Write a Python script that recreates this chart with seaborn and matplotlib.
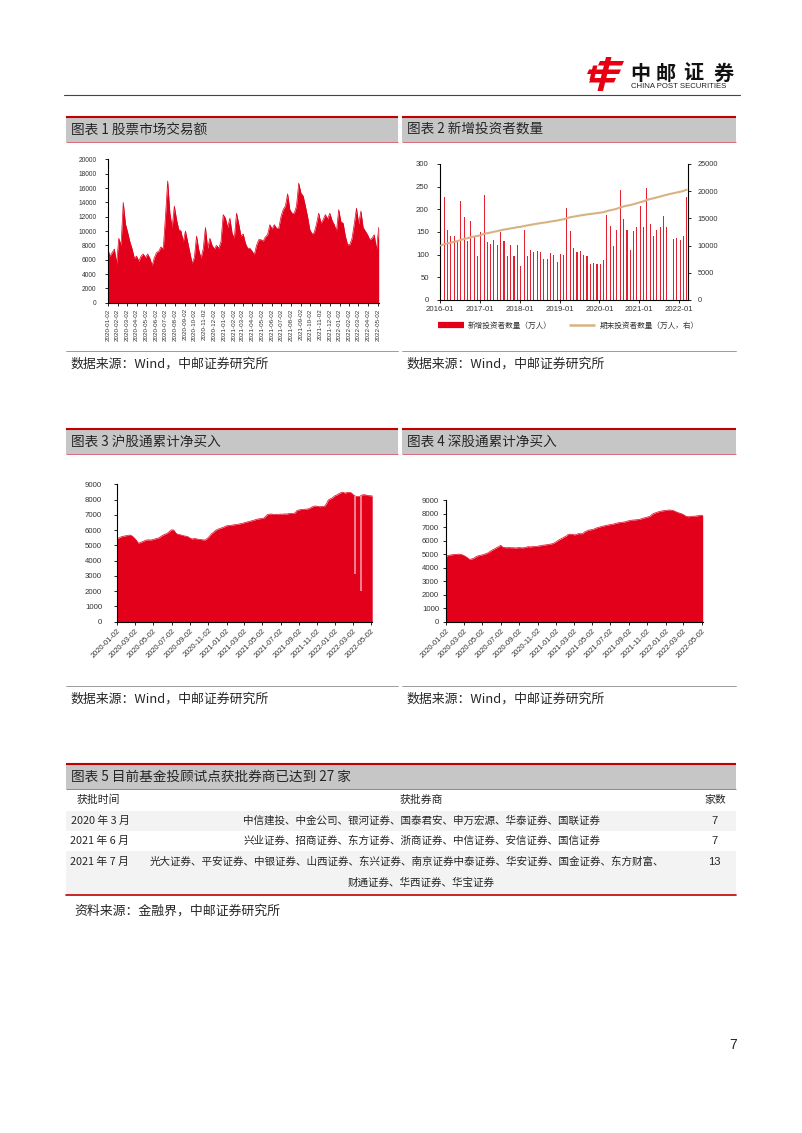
import numpy as np
import pandas as pd
import matplotlib
matplotlib.use('Agg')
import matplotlib.pyplot as plt
import matplotlib.dates as mdates
from matplotlib.patches import Rectangle, Polygon
from matplotlib.lines import Line2D
import seaborn as sns

# ---------------- data ----------------
# Chart 1: stock market turnover (亿元), weekly readings from 2020-01-02
turnover_start = '2020-01-02'
turnover = [7600, 6500, 7000, 7500, 5500, 9000, 8000, 14000, 11000, 9800, 8500, 7500,
            6200, 6500, 5800, 6500, 6800, 6300, 6800, 6200, 5200, 6300, 7000, 7200,
            7800, 7500, 12000, 17000, 12500, 10500, 13500, 11600, 10200, 10000, 8500, 10000,
            8500, 7000, 5500, 6300, 9300, 7400, 6200, 7500, 10500, 7600, 9000, 8000,
            7500, 8000, 7600, 8500, 12300, 11800, 10500, 11800, 9700, 9000, 12500, 11000,
            9300, 9600, 8300, 7600, 7600, 7200, 6700, 8000, 8800, 8800, 8600, 9200,
            9500, 10900, 10300, 10900, 10400, 10400, 12000, 13000, 13500, 15200, 13000, 12500,
            12500, 13500, 16700, 15300, 14900, 13500, 12000, 10200, 9600, 9800, 11000, 12500,
            11100, 11600, 12300, 11700, 12500, 11500, 10900, 10000, 13000, 11300, 11100, 9300,
            8100, 8100, 9000, 11000, 13200, 11000, 12800, 10500, 10000, 9500, 8800, 9000,
            9500, 7400, 10500]
ticks1 = ['2020-01-02', '2020-02-02', '2020-03-02', '2020-04-02', '2020-05-02', '2020-06-02',
          '2020-07-02', '2020-08-02', '2020-09-02', '2020-10-02', '2020-11-02', '2020-12-02',
          '2021-01-02', '2021-02-02', '2021-03-02', '2021-04-02', '2021-05-02', '2021-06-02',
          '2021-07-02', '2021-08-02', '2021-09-02', '2021-10-02', '2021-11-02', '2021-12-02',
          '2022-01-02', '2022-02-02', '2022-03-02', '2022-04-02', '2022-05-02']

# Chart 2: new investors (万人) monthly from 2016-01, and period-end investors (万人)
inv_start = '2016-01-01'
new_investors = [117, 228, 155, 142, 142, 131, 219, 184, 131, 174, 139, 96,
                 151, 231, 128, 124, 133, 122, 151, 131, 96, 122, 96, 122,
                 74, 155, 96, 111, 106, 109, 106, 91, 91, 104, 100, 84,
                 102, 100, 202, 153, 115, 106, 108, 99, 96, 79, 82, 80,
                 79, 89, 188, 163, 120, 155, 242, 179, 154, 111, 153, 161,
                 208, 160, 247, 167, 141, 154, 160, 186, 161, np.nan, 134, 137,
                 132, 141, 228]
total_investors = [10030, 10260, 10410, 10550, 10690, 10830, 11040, 11230, 11360, 11530, 11670, 11770,
                   11920, 12150, 12280, 12400, 12540, 12660, 12810, 12940, 13040, 13160, 13250, 13380,
                   13450, 13600, 13700, 13810, 13920, 14030, 14130, 14220, 14310, 14420, 14520, 14600,
                   14750, 14850, 15060, 15210, 15320, 15430, 15540, 15640, 15730, 15810, 15890, 15970,
                   16060, 16150, 16340, 16500, 16620, 16780, 17020, 17200, 17350, 17460, 17620, 17780,
                   17990, 18150, 18390, 18560, 18700, 18850, 19010, 19190, 19350, 19500, 19630, 19770,
                   19900, 20040, 20270]
ticks2 = ['2016-01', '2017-01', '2018-01', '2019-01', '2020-01', '2021-01', '2022-01']
legend2 = ['新增投资者数量（万人）', '期末投资者数量（万人，右）']

# Chart 3: Shanghai Connect cumulative net buying (亿元), weekly from 2020-01-02
sh_start = '2020-01-02'
sh_cum = [5460, 5500, 5570, 5600, 5630, 5650, 5680, 5620, 5500, 5350, 5150, 5180,
          5240, 5300, 5350, 5360, 5350, 5380, 5420, 5460, 5500, 5600, 5680, 5740,
          5800, 5920, 6020, 6000, 5800, 5720, 5700, 5660, 5620, 5600, 5550, 5450,
          5420, 5450, 5420, 5400, 5380, 5360, 5350, 5450, 5580, 5750, 5850, 5980,
          6050, 6100, 6150, 6200, 6270, 6300, 6300, 6330, 6350, 6370, 6390, 6420,
          6440, 6500, 6530, 6560, 6600, 6630, 6680, 6720, 6740, 6760, 6780, 6900,
          7030, 7050, 7050, 7020, 7040, 7030, 7050, 7040, 7060, 7050, 7080, 7100,
          7080, 7120, 7280, 7320, 7350, 7360, 7370, 7380, 7420, 7500, 7560, 7580,
          7550, 7530, 7550, 7540, 7700, 7970, 8050, 8120, 8240, 8300, 8380, 8450,
          8480, 8420, 8470, 8470, 8440, 8300, 8220, 8200, 8200, 8300, 8320, 8300,
          8260, 8250, 8240]
sh_dip_dates = ['2022-03-09', '2022-03-28']
sh_dip_values = [3100, 2000]

# Chart 4: Shenzhen Connect cumulative net buying (亿元), weekly from 2020-01-02
sz_start = '2020-01-02'
sz_cum = [4810, 4900, 4930, 4950, 4980, 4980, 5000, 4980, 4930, 4850, 4750, 4620,
          4630, 4680, 4780, 4860, 4900, 4930, 4980, 5030, 5100, 5200, 5300, 5380,
          5470, 5550, 5650, 5500, 5480, 5470, 5480, 5470, 5470, 5450, 5470, 5480,
          5460, 5470, 5500, 5550, 5530, 5550, 5560, 5560, 5600, 5620, 5660, 5670,
          5700, 5720, 5750, 5790, 5880, 5980, 6080, 6150, 6250, 6320, 6450, 6480,
          6460, 6420, 6450, 6520, 6500, 6520, 6650, 6720, 6780, 6800, 6830, 6900,
          6960, 7000, 7050, 7080, 7120, 7150, 7180, 7200, 7240, 7280, 7320, 7340,
          7360, 7380, 7430, 7470, 7500, 7520, 7530, 7550, 7570, 7620, 7670, 7700,
          7750, 7800, 7950, 8020, 8080, 8130, 8170, 8200, 8220, 8240, 8260, 8250,
          8220, 8150, 8080, 8030, 7980, 7900, 7800, 7760, 7780, 7800, 7800, 7820,
          7840, 7880, 7850]
ticks34 = ['2020-01-02', '2020-03-02', '2020-05-02', '2020-07-02', '2020-09-02', '2020-11-02',
           '2021-01-02', '2021-03-02', '2021-05-02', '2021-07-02', '2021-09-02', '2021-11-02',
           '2022-01-02', '2022-03-02', '2022-05-02']

# Table 5
tbl_header = ['获批时间', '获批券商', '家数']
tbl_time = ['2020 年 3 月', '2021 年 6 月', '2021 年 7 月']
tbl_brokers = ['中信建投、中金公司、银河证券、国泰君安、申万宏源、华泰证券、国联证券',
               '兴业证券、招商证券、东方证券、浙商证券、中信证券、安信证券、国信证券',
               '光大证券、平安证券、中银证券、山西证券、东兴证券、南京证券中泰证券、华安证券、国金证券、东方财富、\n财通证券、华西证券、华宝证券']
tbl_count = ['7', '7', '13']

# ---------------- style ----------------
sns.set_theme(style='white')
plt.rcParams['font.family'] = ['Noto Sans CJK SC', 'DejaVu Sans']
plt.rcParams['axes.unicode_minus'] = False

RED = '#E3001B'
BAR_RED = '#E2202F'
TAN = '#D8B283'
DARK = '#262626'
NUMFONT = ['Liberation Sans', 'DejaVu Sans']
W, H = 802, 1133
fig = plt.figure(figsize=(W / 100, H / 100), dpi=100)

bg = fig.add_axes([0, 0, 1, 1])
bg.set_xlim(0, W)
bg.set_ylim(H, 0)
bg.axis('off')


def px_rect(x0, y0, x1, y1):
    return [x0 / W, 1 - y1 / H, (x1 - x0) / W, (y1 - y0) / H]


# ---------- header ----------
for poly in [[(600, 61), (624, 61), (622, 65.5), (598, 65.5)],
             [(589, 69.5), (621, 69.5), (619, 74), (587, 74)],
             [(591, 78), (616, 78), (614, 82.5), (589, 82.5)],
             [(606, 57), (611.5, 57), (603, 91), (597.5, 91)],
             [(593, 65.5), (597.5, 65.5), (594, 80), (589.5, 80)]]:
    bg.add_patch(Polygon(poly, closed=True, color='#E60012', lw=0))
for ch, cx in zip('中邮证券', [640, 666, 693, 724]):
    bg.text(cx, 73, ch, fontsize=14.5, fontweight='bold', ha='center', va='center', color='#111111')
bg.text(631, 86.5, 'CHINA POST SECURITIES', fontsize=5.6, ha='left', va='center',
        color='#222222', family=NUMFONT)
bg.plot([64, 740], [95, 95], color='#444444', lw=0.8)


def band(x0, x1, y0, text):
    bg.add_patch(Rectangle((x0, y0), x1 - x0, 26, facecolor='#C6C6C6', lw=0))
    bg.plot([x0, x1], [y0 + 0.8, y0 + 0.8], color='#C00000', lw=1.5, solid_capstyle='butt')
    bg.plot([x0, x1], [y0 + 26, y0 + 26], color='#D05060', lw=0.6, solid_capstyle='butt')
    bg.text(x0 + 5, y0 + 13.5, text, fontsize=9.8, ha='left', va='center', color=DARK)


band(66, 398, 116, '图表 1 股票市场交易额')
band(402, 736, 116, '图表 2 新增投资者数量')
band(66, 398, 428, '图表 3 沪股通累计净买入')
band(402, 736, 428, '图表 4 深股通累计净买入')
band(66, 736, 763, '图表 5 目前基金投顾试点获批券商已达到 27 家')

for y in (351, 686):
    bg.plot([66, 398], [y, y], color='#8C8C8C', lw=0.6)
    bg.plot([402, 736], [y, y], color='#8C8C8C', lw=0.6)
for (x, y) in [(70, 364), (406, 364), (70, 699), (406, 699)]:
    bg.text(x, y, '数据来源：Wind，中邮证券研究所', fontsize=9.3, ha='left', va='center', color=DARK)

# ---------- table ----------
bg.add_patch(Rectangle((66, 811), 670, 20, facecolor='#F3F3F3', lw=0))
bg.add_patch(Rectangle((66, 851), 670, 43, facecolor='#F3F3F3', lw=0))
bg.plot([66, 736], [895, 895], color='#C00000', lw=1.2)
hx = [98, 421, 715]
for t, x in zip(tbl_header, hx):
    bg.text(x, 800, t, fontsize=7.8, ha='center', va='center', color=DARK)
row_y = [821, 841, 862]
for i in range(3):
    bg.text(100, row_y[i], tbl_time[i], fontsize=7.8, ha='center', va='center', color=DARK)
    bg.text(714, row_y[i], tbl_count[i], fontsize=8, ha='center', va='center', color=DARK,
            family=NUMFONT)
bg.text(422, 821, tbl_brokers[0], fontsize=7.6, ha='center', va='center', color=DARK)
bg.text(422, 841, tbl_brokers[1], fontsize=7.6, ha='center', va='center', color=DARK)
l1, l2 = tbl_brokers[2].split('\n')
bg.text(407, 862, l1, fontsize=7.6, ha='center', va='center', color=DARK)
bg.text(421, 883, l2, fontsize=7.6, ha='center', va='center', color=DARK)
bg.text(74, 911, '资料来源：金融界，中邮证券研究所', fontsize=9.3, ha='left', va='center', color=DARK)

bg.text(733, 1045, '7', fontsize=10, ha='center', va='center', color=DARK, family=NUMFONT)


def style_axes(ax, lsize_y, lsize_x):
    for s in ['top', 'right']:
        ax.spines[s].set_visible(False)
    for s in ['left', 'bottom']:
        ax.spines[s].set_color('#000000')
        ax.spines[s].set_linewidth(0.8)
    ax.tick_params(axis='both', direction='out', length=2, width=0.6, colors='#000000',
                   left=True, bottom=True)
    ax.tick_params(axis='y', labelsize=lsize_y, labelcolor='#333333')
    ax.tick_params(axis='x', labelsize=lsize_x, labelcolor='#333333')
    ax.set_xlabel('')
    ax.set_ylabel('')
    ax.grid(False)
    for lbl in ax.get_yticklabels():
        lbl.set_family(NUMFONT)


# ---------- chart 1 ----------
ax1 = fig.add_axes(px_rect(107.7, 159.5, 379, 302.7))
df1 = pd.DataFrame({'date': pd.date_range(turnover_start, periods=len(turnover), freq='7D'),
                    'value': turnover})
ax1.fill_between(df1['date'], df1['value'], 0, color=RED, lw=0)
sns.lineplot(data=df1, x='date', y='value', ax=ax1, color=RED, lw=0.5)
ax1.set_xlim(pd.Timestamp('2020-01-02'), pd.Timestamp('2022-05-06'))
ax1.set_ylim(0, 20000)
ax1.set_yticks(range(0, 20001, 2000))
ax1.set_xticks(pd.to_datetime(ticks1))
ax1.set_xticklabels(ticks1, rotation=90, family=NUMFONT)
style_axes(ax1, 4.8, 4.5)
ax1.tick_params(axis='y', pad=6)
ax1.tick_params(axis='x', pad=2)

# ---------- chart 2 ----------
ax2 = fig.add_axes(px_rect(440, 164, 688, 300))
months = pd.date_range(inv_start, periods=len(new_investors), freq='MS')
ax2.bar(months + pd.Timedelta(days=3), new_investors, width=10, align='edge', color=BAR_RED, lw=0)
ax2.set_xlim(pd.Timestamp('2016-01-01'), pd.Timestamp('2022-03-22'))
ax2.set_ylim(0, 300)
ax2.set_yticks(range(0, 301, 50))
ax2.set_xticks(pd.to_datetime(ticks2))
ax2.set_xticklabels(ticks2, family=NUMFONT)
style_axes(ax2, 5.6, 5.6)
ax2.tick_params(axis='y', pad=6)
ax2.tick_params(axis='x', pad=2)
ax2r = ax2.twinx()
df2 = pd.DataFrame({'date': months + pd.Timedelta(days=8), 'total': total_investors})
sns.lineplot(data=df2, x='date', y='total', ax=ax2r, color=TAN, lw=1.5)
ax2r.set_ylim(0, 25000)
ax2r.set_yticks(range(0, 25001, 5000))
ax2r.set_xlim(pd.Timestamp('2016-01-01'), pd.Timestamp('2022-03-22'))
ax2r.set_ylabel('')
ax2r.grid(False)
for s in ['top', 'left', 'bottom']:
    ax2r.spines[s].set_visible(False)
ax2r.spines['right'].set_visible(True)
ax2r.spines['right'].set_color('#000000')
ax2r.spines['right'].set_linewidth(0.8)
ax2.spines['right'].set_visible(False)
ax2r.tick_params(axis='y', direction='out', length=2, width=0.6, right=True, colors='#000000',
                 labelsize=5.3, labelcolor='#333333', pad=5)
for lbl in ax2r.get_yticklabels():
    lbl.set_family(NUMFONT)
handles = [Line2D([], [], color=RED, lw=4.5, solid_capstyle='butt'),
           Line2D([], [], color=TAN, lw=1.8, solid_capstyle='butt')]
fig.legend(handles, legend2, loc='center', bbox_to_anchor=(568 / W, 1 - 326 / H), ncol=2,
           frameon=False, fontsize=5.5, handlelength=3.4, handletextpad=0.6, columnspacing=2.2,
           labelcolor='#333333')

# ---------- chart 3 ----------
ax3 = fig.add_axes(px_rect(117.3, 484.3, 372.5, 621.7))
df3 = pd.DataFrame({'date': pd.date_range(sh_start, periods=len(sh_cum), freq='7D'),
                    'value': sh_cum})
ax3.fill_between(df3['date'], df3['value'], 0, color=RED, lw=0)
sns.lineplot(data=df3, x='date', y='value', ax=ax3, color=RED, lw=0.5)
dip_d = pd.to_datetime(sh_dip_dates)
tops = np.interp(mdates.date2num(dip_d), mdates.date2num(df3['date']), df3['value'])
ax3.vlines(dip_d, sh_dip_values, tops, color='#F4A6AE', lw=1.1)
ax3.set_xlim(pd.Timestamp('2020-01-02'), pd.Timestamp('2022-05-06'))
ax3.set_ylim(0, 9000)
ax3.set_yticks(range(0, 9001, 1000))
ax3.set_xticks(pd.to_datetime(ticks34))
ax3.set_xticklabels(ticks34, rotation=45, ha='right', rotation_mode='anchor', family=NUMFONT)
style_axes(ax3, 5.6, 5.4)
ax3.tick_params(axis='y', pad=9)
ax3.tick_params(axis='x', pad=2)

# ---------- chart 4 ----------
ax4 = fig.add_axes(px_rect(446, 500, 703, 621.7))
df4 = pd.DataFrame({'date': pd.date_range(sz_start, periods=len(sz_cum), freq='7D'),
                    'value': sz_cum})
ax4.fill_between(df4['date'], df4['value'], 0, color=RED, lw=0)
sns.lineplot(data=df4, x='date', y='value', ax=ax4, color=RED, lw=0.5)
ax4.set_xlim(pd.Timestamp('2020-01-02'), pd.Timestamp('2022-05-06'))
ax4.set_ylim(0, 9000)
ax4.set_yticks(range(0, 9001, 1000))
ax4.set_xticks(pd.to_datetime(ticks34))
ax4.set_xticklabels(ticks34, rotation=45, ha='right', rotation_mode='anchor', family=NUMFONT)
style_axes(ax4, 5.6, 5.4)
ax4.tick_params(axis='y', pad=3)
ax4.tick_params(axis='x', pad=2)

fig.savefig('out.png', dpi=100)
